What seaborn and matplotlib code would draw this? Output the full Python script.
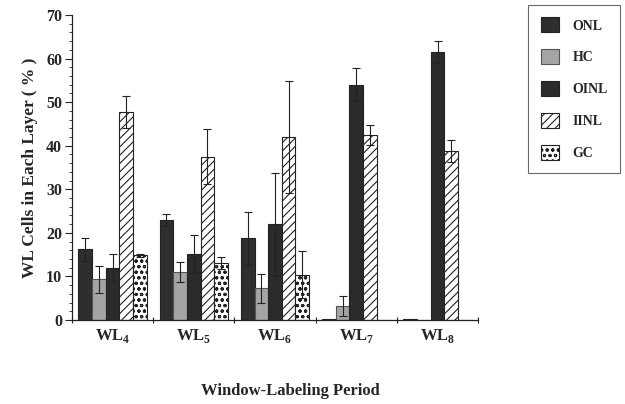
import matplotlib
matplotlib.use("Agg")
import matplotlib.pyplot as plt
import seaborn as sns
import pandas as pd
import numpy as np
from matplotlib.patches import Patch
from matplotlib.ticker import MultipleLocator, FixedLocator

periods = ["WL4", "WL5", "WL6", "WL7", "WL8"]
period_labels = [r"WL$_\mathbf{4}$", r"WL$_\mathbf{5}$", r"WL$_\mathbf{6}$", r"WL$_\mathbf{7}$", r"WL$_\mathbf{8}$"]
layers = ["ONL", "HC", "OINL", "IINL", "GC"]

onl = [16.2, 23.0, 18.7, 0.3, 0.3]
hc = [9.3, 11.0, 7.3, 3.2, 0.0]
oinl = [12.0, 15.2, 22.0, 54.0, 61.5]
iinl = [47.8, 37.5, 42.0, 42.5, 38.8]
gc = [14.8, 13.0, 10.4, 0.1, 0.0]

onl_err = [2.7, 1.4, 6.1, 0.0, 0.0]
hc_err = [3.0, 2.2, 3.3, 2.3, 0.0]
oinl_err = [3.1, 4.4, 11.8, 3.8, 2.5]
iinl_err = [3.7, 6.4, 12.8, 2.3, 2.5]
gc_err = [0.3, 1.4, 5.4, 0.0, 0.0]

values = {"ONL": onl, "HC": hc, "OINL": oinl, "IINL": iinl, "GC": gc}
errors = {"ONL": onl_err, "HC": hc_err, "OINL": oinl_err, "IINL": iinl_err, "GC": gc_err}

rows = []
for lay in layers:
    for i, p in enumerate(periods):
        rows.append({"period": p, "layer": lay, "value": values[lay][i], "err": errors[lay][i]})
df = pd.DataFrame(rows)

sns.set_theme(style="ticks")
plt.rcParams["font.family"] = ["Liberation Serif", "DejaVu Serif"]
plt.rcParams["font.weight"] = "bold"
plt.rcParams["mathtext.fontset"] = "custom"
plt.rcParams["mathtext.rm"] = "Liberation Serif:bold"
plt.rcParams["mathtext.bf"] = "Liberation Serif:bold"
plt.rcParams["hatch.linewidth"] = 0.8

fill = {"ONL": "#2e2e2e", "HC": "#a4a4a4", "OINL": "#2b2b2b", "IINL": "white", "GC": "white"}
hatches = {"ONL": "", "HC": "", "OINL": "", "IINL": "////", "GC": "ooo"}

fig = plt.figure(figsize=(6.25, 4.04), dpi=100)
ax = fig.add_axes([0.115, 0.208, 0.65, 0.755])

sns.barplot(data=df, x="period", y="value", hue="layer", order=periods, hue_order=layers,
            palette=fill, errorbar=None, width=0.84, edgecolor="#222222", linewidth=0.8,
            legend=False, ax=ax, saturation=1)

for k, lay in enumerate(layers):
    cont = ax.containers[k]
    for i, bar in enumerate(cont.patches):
        bar.set_hatch(hatches[lay])
        if lay == "HC":
            bar.set_edgecolor("#555555")
        x = bar.get_x() + bar.get_width() / 2
        v = values[lay][i]
        e = errors[lay][i]
        if e > 0:
            ax.errorbar(x, v, yerr=e, fmt="none", ecolor="#222222", elinewidth=0.8, capsize=3, capthick=0.8)

ax.set_xlim(-0.5, 4.5)
ax.set_ylim(0, 70)
ax.yaxis.set_major_locator(MultipleLocator(10))
ax.yaxis.set_minor_locator(MultipleLocator(2))
ax.xaxis.set_major_locator(FixedLocator([-0.5, 0.5, 1.5, 2.5, 3.5, 4.5]))
ax.xaxis.set_minor_locator(FixedLocator([0, 1, 2, 3, 4]))
ax.set_xticklabels([])
ax.set_xticklabels(period_labels, minor=True)
ax.tick_params(axis="x", which="minor", length=0, pad=5, labelsize=12)
ax.tick_params(axis="x", which="major", length=5, direction="inout", width=0.8)
ax.tick_params(axis="y", which="major", length=5, width=0.8, labelsize=11.5, pad=2)
ax.tick_params(axis="y", which="minor", length=2.5, width=0.6)
for lab in ax.get_yticklabels():
    lab.set_fontweight("bold")
for sp in ["top", "right"]:
    ax.spines[sp].set_visible(False)
for sp in ["left", "bottom"]:
    ax.spines[sp].set_linewidth(0.9)
    ax.spines[sp].set_color("#222222")

ax.set_ylabel("WL Cells in Each Layer ( % )", fontsize=12.5, fontweight="bold", labelpad=6)
ax.set_xlabel("")
fig.text(0.465, 0.033, "Window-Labeling Period", ha="center", va="center", fontsize=12, fontweight="bold")

handles = []
for lay in layers:
    handles.append(Patch(facecolor=fill[lay], hatch=hatches[lay],
                         edgecolor="#555555" if lay == "HC" else "#222222", linewidth=0.8, label=lay))
leg = fig.legend(handles=handles, loc="upper left", bbox_to_anchor=(0.845, 0.988),
                 frameon=True, fancybox=False, edgecolor="#444444", prop={"weight": "bold", "size": 10},
                 handlelength=1.3, handleheight=1.3, labelspacing=1.2, borderpad=0.9, handletextpad=1.0,
                 borderaxespad=0)
leg.get_frame().set_linewidth(0.8)

fig.savefig("out.png", dpi=100)
